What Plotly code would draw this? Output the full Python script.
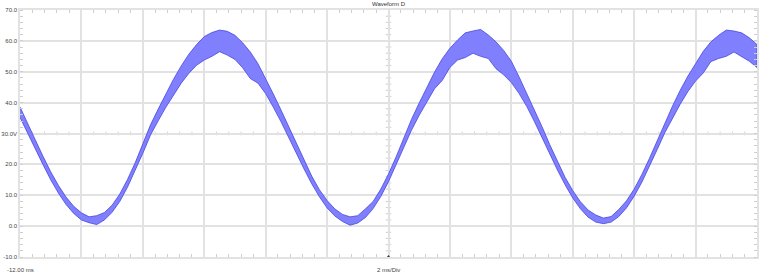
import plotly.graph_objects as go

# ---- data ----
time_ms = [-12.0, -11.75, -11.5, -11.25, -11.0, -10.75, -10.5, -10.25, -10.0, -9.75,
           -9.5, -9.25, -9.0, -8.75, -8.5, -8.25, -8.0, -7.75, -7.5, -7.25,
           -7.0, -6.75, -6.5, -6.25, -6.0, -5.75, -5.5, -5.25, -5.0, -4.75,
           -4.5, -4.25, -4.0, -3.75, -3.5, -3.25, -3.0, -2.75, -2.5, -2.25,
           -2.0, -1.75, -1.5, -1.25, -1.0, -0.75, -0.5, -0.25, 0.0, 0.25,
           0.5, 0.75, 1.0, 1.25, 1.5, 1.75, 2.0, 2.25, 2.5, 2.75,
           3.0, 3.25, 3.5, 3.75, 4.0, 4.25, 4.5, 4.75, 5.0, 5.25,
           5.5, 5.75, 6.0, 6.25, 6.5, 6.75, 7.0, 7.25, 7.5, 7.75,
           8.0, 8.25, 8.5, 8.75, 9.0, 9.25, 9.5, 9.75, 10.0, 10.25,
           10.5, 10.75, 11.0, 11.25, 11.5, 11.75, 12.0]

upper_v = [38.6, 33.5, 27.9, 22.6, 17.6, 13.2, 9.4, 6.4, 4.3, 3.0,
           3.4, 4.4, 6.8, 10.4, 15.1, 20.5, 26.6, 32.8, 37.9, 42.9,
           47.6, 51.9, 55.7, 58.8, 61.4, 62.7, 63.5, 63.1, 61.8, 59.4,
           56.4, 52.6, 47.8, 42.8, 37.6, 32.2, 26.5, 21.1, 16.2, 11.8,
           8.3, 5.6, 3.8, 3.0, 3.4, 5.6, 8.0, 12.0, 16.9, 22.5,
           28.6, 34.6, 39.9, 45.1, 49.9, 54.2, 57.6, 60.3, 62.6, 63.2,
           63.7, 61.9, 59.7, 56.9, 53.4, 48.4, 43.1, 37.7, 32.2, 26.4,
           20.9, 15.8, 11.5, 7.9, 5.2, 3.6, 2.6, 3.1, 5.4, 8.2,
           12.0, 16.7, 22.0, 27.8, 33.6, 38.9, 44.0, 48.6, 52.6, 56.6,
           59.7, 61.8, 63.5, 63.2, 62.6, 61.0, 58.8]

lower_v = [35.2, 30.1, 24.9, 19.9, 15.0, 10.7, 7.0, 4.1, 2.0, 1.1,
           0.5, 2.0, 4.5, 8.0, 12.6, 17.9, 23.6, 29.5, 34.1, 38.5,
           42.4, 46.3, 49.5, 52.1, 53.8, 55.0, 56.5, 55.4, 54.0, 51.3,
           47.8, 46.3, 42.9, 38.5, 33.8, 28.9, 23.6, 18.5, 13.7, 9.5,
           5.9, 3.3, 1.5, 0.3, 1.0, 2.8, 5.7, 9.6, 14.4, 19.8,
           25.6, 31.1, 35.9, 40.2, 44.5, 47.2, 51.4, 53.8, 54.6, 56.0,
           55.0, 54.3, 51.0, 49.0, 46.5, 43.0, 38.8, 33.9, 28.9, 23.5,
           18.2, 13.4, 9.1, 5.6, 2.9, 1.3, 0.8, 1.3, 3.1, 5.9,
           9.7, 14.2, 19.3, 24.8, 30.3, 35.0, 39.5, 43.6, 47.0, 49.6,
           53.3, 54.3, 55.0, 56.4, 55.0, 53.4, 51.4]

y_tick_vals = [-10, 0, 10, 20, 30, 40, 50, 60, 70]
y_tick_text = ["-10.0", "0.0", "10.0", "20.0", "30.0V", "40.0", "50.0", "60.0", "70.0"]

title_text = "Waveform D"
start_label = "-12.00 ms"
scale_label = "2 ms/Div"
trigger_time = 0.0

x_range = [-12, 12]
y_range = [-10, 70]
x_div = 2
y_div = 10
x_center = 0
y_center = 30

assert len(time_ms) == len(upper_v) == len(lower_v)

GRID = "#e2e2e2"
TICK = "#cfcfcf"
FONT = "Liberation Sans"

fig = go.Figure()

fig.add_trace(go.Scatter(
    x=time_ms + time_ms[::-1],
    y=upper_v + lower_v[::-1],
    mode="lines",
    fill="toself",
    fillcolor="rgb(128,128,255)",
    line=dict(color="rgb(70,70,220)", width=0.8),
    hoverinfo="skip",
    showlegend=False,
))

# trigger marker at bottom centre
fig.add_trace(go.Scatter(
    x=[trigger_time], y=[y_range[0]],
    mode="markers",
    marker=dict(symbol="triangle-up", size=4, color="#333333"),
    cliponaxis=False,
    showlegend=False,
    hoverinfo="skip",
))

# minor tick marks on the centre cross-hair lines
shapes = []
x_minor = x_div / 5
y_minor = y_div / 5
n_x = int(round((x_range[1] - x_range[0]) / x_minor))
for i in range(1, n_x):
    xv = x_range[0] + i * x_minor
    if abs(xv / x_div - round(xv / x_div)) < 1e-6:
        continue
    shapes.append(dict(type="line", xref="x", yref="y",
                       x0=xv, x1=xv, y0=y_center - 0.6, y1=y_center + 0.6,
                       line=dict(color=TICK, width=1), layer="below"))
n_y = int(round((y_range[1] - y_range[0]) / y_minor))
for i in range(1, n_y):
    yv = y_range[0] + i * y_minor
    if abs(yv / y_div - round(yv / y_div)) < 1e-6:
        continue
    shapes.append(dict(type="line", xref="x", yref="y",
                       x0=x_center - 0.09, x1=x_center + 0.09, y0=yv, y1=yv,
                       line=dict(color=TICK, width=1), layer="below"))

fig.update_layout(
    width=768, height=276,
    margin=dict(l=20, r=11, t=10, b=19, autoexpand=False),
    paper_bgcolor="white", plot_bgcolor="white",
    font=dict(family=FONT, size=6, color="#444444"),
    shapes=shapes,
    xaxis=dict(
        range=x_range, tick0=0, dtick=x_div,
        showgrid=True, gridcolor=GRID, gridwidth=1.5,
        showticklabels=False, ticks="", zeroline=False, automargin=False,
        showline=True, linecolor=GRID, linewidth=1.5, mirror="allticks",
        minor=dict(dtick=x_minor, tick0=0, ticks="inside", ticklen=3,
                   tickcolor=TICK, tickwidth=1, showgrid=False),
        fixedrange=True,
    ),
    yaxis=dict(
        range=y_range, tickvals=y_tick_vals, ticktext=y_tick_text,
        showgrid=True, gridcolor=GRID, gridwidth=1.5,
        ticks="", zeroline=False, automargin=False,
        tickfont=dict(family=FONT, size=6, color="#444444"),
        showline=True, linecolor=GRID, linewidth=1.5, mirror="allticks",
        minor=dict(dtick=y_minor, tick0=0, ticks="inside", ticklen=3,
                   tickcolor=TICK, tickwidth=1, showgrid=False),
        fixedrange=True,
    ),
    annotations=[
        dict(text=title_text, xref="paper", yref="paper", x=0.5, y=1,
             yshift=6, xanchor="center", yanchor="middle", showarrow=False,
             font=dict(family=FONT, size=6, color="#333333")),
        dict(text=start_label, xref="x", yref="paper", x=x_range[0], y=0,
             yshift=-13, xanchor="center", yanchor="middle", showarrow=False,
             font=dict(family=FONT, size=6, color="#444444")),
        dict(text=scale_label, xref="x", yref="paper", x=x_center, y=0,
             yshift=-13, xanchor="center", yanchor="middle", showarrow=False,
             font=dict(family=FONT, size=6, color="#444444")),
    ],
)

fig.write_html("out.html")
